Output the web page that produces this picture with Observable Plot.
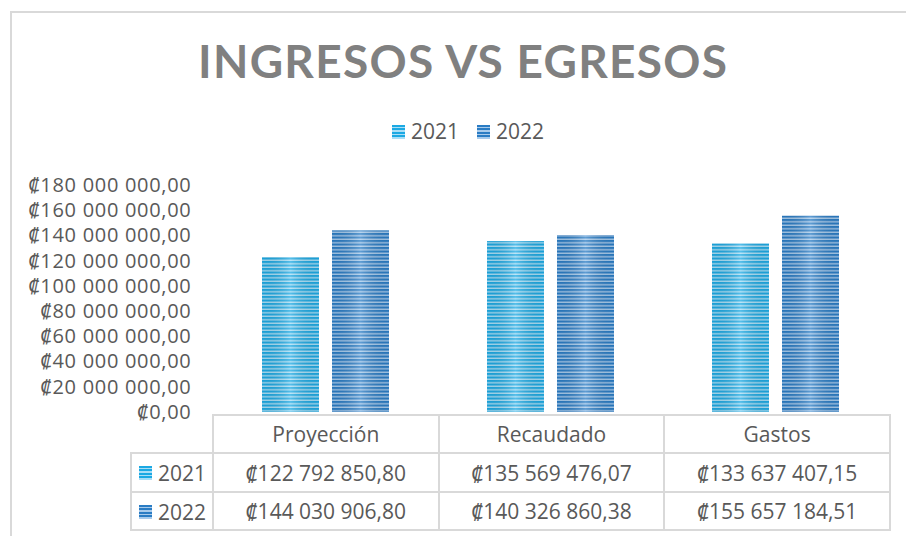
<!DOCTYPE html>
<html><head><meta charset="utf-8">
<script src="https://cdn.jsdelivr.net/npm/d3@7"></script>
<script src="https://cdn.jsdelivr.net/npm/@observablehq/plot@0.6"></script>
<style>
html,body{margin:0;padding:0;background:#fff;}
#chart{position:relative;width:906px;height:536px;overflow:hidden;background:#fff;font-family:"Open Sans","Noto Sans","DejaVu Sans",sans-serif;color:#595959;}
#frame{position:absolute;left:10px;top:11px;width:910px;height:540px;border-left:2px solid #d9d9d9;border-top:2px solid #d9d9d9;box-sizing:border-box;}
.abs{position:absolute;}
.sw{position:absolute;width:13px;height:14px;}
.lg{position:absolute;font-size:21px;line-height:21px;white-space:nowrap;}
#tbl{position:absolute;left:130px;top:414px;border-collapse:collapse;table-layout:fixed;font-size:21px;color:#595959;}
#tbl td{border:2px solid #d9d9d9;text-align:center;padding:0;white-space:nowrap;}
#tbl td.corner{border-top:none;border-left:none;}
#tbl td.yr{position:relative;text-align:left;}
</style></head><body><div id="chart"><div id="frame"></div></div>
<script>
const categories = ["Proyección", "Recaudado", "Gastos"];
const years = ["2021", "2022"];
const values2021 = [122792850.80, 135569476.07, 133637407.15];
const values2022 = [144030906.80, 140326860.38, 155657184.51];
const yTicks = [0, 20e6, 40e6, 60e6, 80e6, 100e6, 120e6, 140e6, 160e6, 180e6];
const titleText = "INGRESOS VS EGRESOS";
const seriesValues = {"2021": values2021, "2022": values2022};
const stripeDark = {"2021": "#1ca9e3", "2022": "#2a7cc4"};
const stripeLight = {"2021": "#aadef6", "2022": "#a8cbec"};

const locale = d3.formatLocale({decimal: ",", thousands: " ", grouping: [3], currency: ["₡", ""]});
const fmt = locale.format("$,.2f");

const rows = categories.flatMap((c, i) => years.map(y => ({category: c, year: y, value: seriesValues[y][i]})));

const chart = document.getElementById("chart");

// Title
const tsvg = d3.select(chart).append("svg").attr("class", "abs")
  .attr("width", 906).attr("height", 100).style("left", "0px").style("top", "0px");
tsvg.append("text").text(titleText)
  .attr("x", 462.5).attr("y", 78).attr("text-anchor", "middle")
  .attr("font-family", 'Lato,"Open Sans",sans-serif').attr("font-weight", "bold")
  .attr("font-size", 46).attr("fill", "#808080")
  .attr("textLength", 529).attr("lengthAdjust", "spacing");

function stripeCss(y) {
  return `repeating-linear-gradient(to bottom, ${stripeDark[y]} 0px, ${stripeDark[y]} 2px, ${stripeLight[y]} 2px, ${stripeLight[y]} 3.5px)`;
}

// Top legend
const legX = [392, 477];
years.forEach((y, i) => {
  const sw = document.createElement("div");
  sw.className = "sw"; sw.style.left = legX[i] + "px"; sw.style.top = "125px";
  sw.style.background = stripeCss(y);
  chart.appendChild(sw);
  const t = document.createElement("div");
  t.className = "lg"; t.textContent = y; t.style.left = (legX[i] + 19) + "px"; t.style.top = "121px";
  chart.appendChild(t);
});

// Plot
const plot = Plot.plot({
  width: 906, height: 250,
  marginTop: 15, marginBottom: 8, marginLeft: 212, marginRight: 17,
  style: {fontFamily: '"Open Sans","Noto Sans","DejaVu Sans",sans-serif', fontSize: "20px", letterSpacing: "0.7px", color: "#595959", background: "transparent", overflow: "visible"},
  facet: {data: rows, x: "category"},
  fx: {domain: categories, paddingInner: 0, paddingOuter: 0, axis: null, label: null},
  x: {domain: years, paddingInner: 0.183, paddingOuter: 0.68, axis: null},
  y: {domain: [0, 180e6], ticks: yTicks, tickFormat: fmt, tickSize: 0, tickPadding: 22, label: null},
  color: {domain: years, range: ["url(#stripe2021)", "url(#stripe2022)"]},
  marks: [
    Plot.barY(rows, {x: "year", y: "value", fill: "year"}),
    Plot.barY(rows, {x: "year", y: "value", fill: "url(#sheen)"})
  ]
});
plot.style.position = "absolute";
plot.style.left = "0px";
plot.style.top = "170px";
const defs = years.map(y => `<pattern id="stripe${y}" patternUnits="userSpaceOnUse" width="10" height="3.5">
  <rect width="10" height="3.5" fill="${stripeLight[y]}"/><rect width="10" height="2.1" fill="${stripeDark[y]}"/></pattern>`).join("") +
  `<linearGradient id="sheen" x1="0" x2="1" y1="0" y2="0">
   <stop offset="0" stop-color="#000" stop-opacity="0.05"/>
   <stop offset="0.5" stop-color="#fff" stop-opacity="0.25"/>
   <stop offset="1" stop-color="#000" stop-opacity="0.05"/></linearGradient>`;
d3.select(plot).insert("defs", ":first-child").html(defs);
chart.appendChild(plot);

// Data table
const colW = (889 - 212) / categories.length;
let html = `<colgroup><col style="width:82px">${categories.map(() => `<col style="width:${colW}px">`).join("")}</colgroup>`;
html += `<tr style="height:38px"><td class="corner"></td>${categories.map(c => `<td>${c}</td>`).join("")}</tr>`;
years.forEach((y, k) => {
  html += `<tr style="height:${k === 0 ? 39 : 38}px"><td class="yr"><span style="position:absolute;left:7px;top:12px;width:13px;height:14px;background:${stripeCss(y)}"></span><span style="position:absolute;left:26px;top:5px">${y}</span></td>${seriesValues[y].map(v => `<td>${fmt(v)}</td>`).join("")}</tr>`;
});
const tbl = document.createElement("table");
tbl.id = "tbl";
tbl.style.width = (82 + colW * categories.length) + "px";
tbl.innerHTML = html;
chart.appendChild(tbl);
</script>
</body></html>
